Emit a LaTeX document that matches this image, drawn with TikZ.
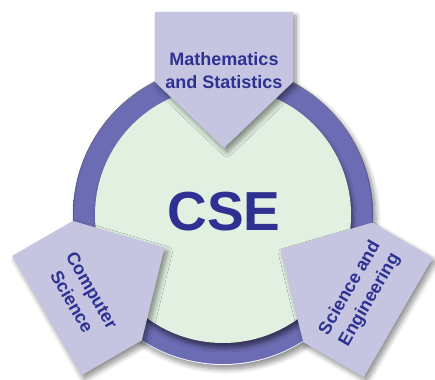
\documentclass[tikz,border=0pt]{standalone}
\usepackage{fontspec}
\setmainfont{Liberation Sans}
\usetikzlibrary{shadows,shadows.blur}
\definecolor{ringcol}{HTML}{6C6CB4}
\definecolor{ringdark}{HTML}{50509A}
\definecolor{innercol}{HTML}{E1F0E1}
\definecolor{pentcol}{HTML}{C5C5E1}
\definecolor{txtcol}{HTML}{2E3192}
\tikzset{
  shd/.style={blur shadow={shadow xshift=3pt, shadow yshift=-4pt, shadow opacity=45, shadow blur steps=8, shadow blur radius=5pt}},
  pent/.style={fill=pentcol, shd},
  lbl/.style={text=txtcol, font=\fontsize{18}{23}\selectfont\bfseries, align=center, inner sep=0pt},
}
\begin{document}
\begin{tikzpicture}[x=1pt,y=-1pt]
\useasboundingbox (0,0) rectangle (435,379);
\coordinate (c) at (223,215);
% ring
\fill[ringcol, shd] (c) circle (150);
\shade[inner color=ringcol, outer color=ringcol, middle color=ringdark] (c) circle (150);
\fill[ringcol] (c) circle (149);
\fill[innercol, blur shadow={shadow xshift=2pt, shadow yshift=-5pt, shadow opacity=50, shadow blur steps=6, shadow blur radius=4pt}] (c) circle (128);
\node[text=txtcol, font=\fontsize{55}{60}\selectfont\bfseries, inner sep=0pt] (cse) at (224,212) {CSE};
% top pentagon
\path[pent] (155,12) -- (293,12) -- (293,82) -- (224,148) -- (155,82) -- cycle;
\node[lbl] (math) at (224,71) {Mathematics\\and Statistics};
% left pentagon
\path[pent] (81.2,375.4) -- (12.2,255.9) -- (72.8,220.9) -- (164.5,247.6) -- (141.8,340.4) -- cycle;
\node[lbl, rotate=-60] (cs) at (82,296) {Computer\\Science};
% right pentagon
\path[pent] (432.8,257.6) -- (363.8,377.1) -- (303.2,342.1) -- (280.5,249.4) -- (372.2,222.6) -- cycle;
\node[lbl, rotate=60] (se) at (360,294) {Science and\\Engineering};
\end{tikzpicture}
\end{document}
